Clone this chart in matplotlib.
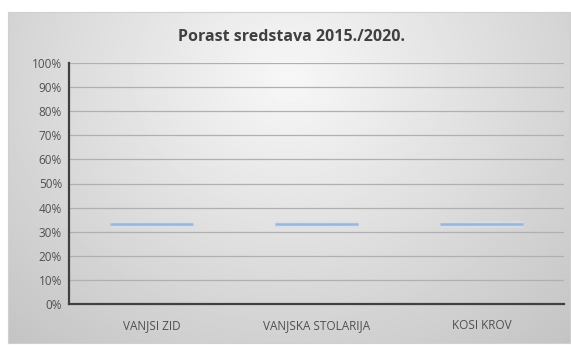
import numpy as np
import matplotlib
matplotlib.use("Agg")
import matplotlib.pyplot as plt
from matplotlib.ticker import FuncFormatter

# podaci
kategorije = ["VANJSI ZID", "VANJSKA STOLARIJA", "KOSI KROV"]
udio = [33.3, 33.3, 33.3]  # postotak
y_ticks = list(range(0, 101, 10))

plt.rcParams['font.family'] = ['Open Sans', 'DejaVu Sans']

W, H = 571, 345
fig = plt.figure(figsize=(W / 100, H / 100), dpi=100)
fig.patch.set_facecolor("white")

# sivi gradijent pozadine grafikona
bg = fig.add_axes([8 / W, 2 / H, 562 / W, 331 / H])
gx, gy = np.meshgrid(np.linspace(-1, 1, 300), np.linspace(-1, 1, 200))
dist = np.sqrt((gx / 1.1) ** 2 + ((gy + 0.6) / 1.6) ** 2)
grad = np.clip(0.97 - 0.15 * dist, 0, 1)
bg.imshow(grad, cmap="gray", vmin=0, vmax=1, aspect="auto", extent=[0, 1, 0, 1])
bg.set_xticks([])
bg.set_yticks([])
for s in bg.spines.values():
    s.set_color("#d0d0d0")
    s.set_linewidth(0.8)

ax = fig.add_axes([69 / W, 41 / H, 495 / W, 241 / H])
ax.patch.set_alpha(0)

x = np.arange(len(kategorije))
# tanke crte na vrijednosti udjela
ax.hlines(udio, x - 0.25, x + 0.25, colors="#d3e1f2", linewidth=5, alpha=0.6, zorder=3)
ax.hlines(udio, x - 0.25, x + 0.25, colors="#98b6da", linewidth=1.8, zorder=4)

ax.set_xlim(-0.5, len(kategorije) - 0.5)
ax.set_ylim(0, 100)
ax.set_yticks(y_ticks)
ax.yaxis.set_major_formatter(FuncFormatter(lambda v, p: f"{int(v)}%"))
ax.set_xticks(x)
ax.set_xticklabels(kategorije)
ax.tick_params(axis="both", length=0, labelsize=8.5, colors="#505050")
ax.tick_params(axis="x", pad=11)
ax.tick_params(axis="y", pad=5)

ax.grid(axis="y", color="#b0b0b0", linewidth=0.9)
ax.set_axisbelow(True)
for side in ["top", "right"]:
    ax.spines[side].set_visible(False)
for side in ["left", "bottom"]:
    ax.spines[side].set_color("#404040")
    ax.spines[side].set_linewidth(1.6)

fig.text(291 / W, 1 - 37 / H, "Porast sredstava 2015./2020.", ha="center", va="center",
         fontsize=11.5, fontweight="bold", color="#404040")

fig.savefig("out.png", dpi=100)
